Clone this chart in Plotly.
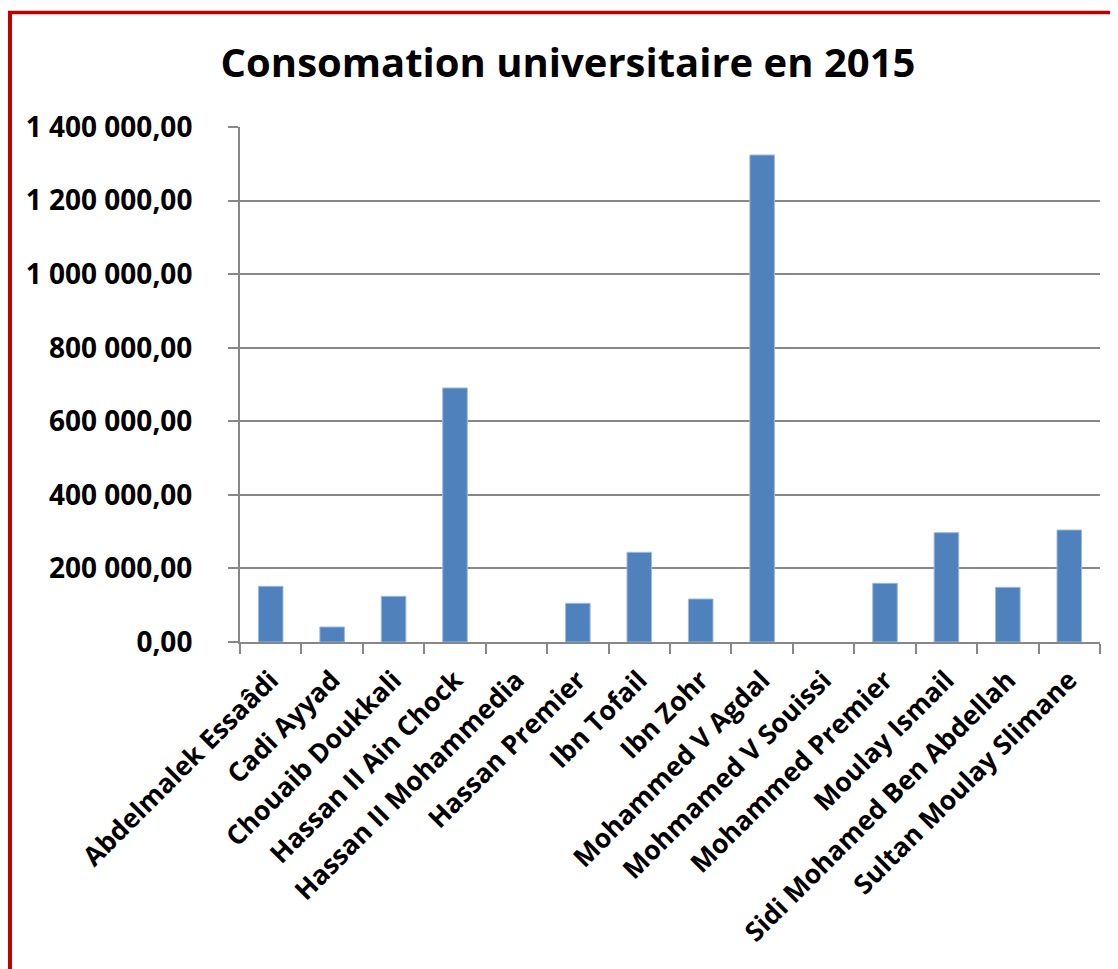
import plotly.graph_objects as go

categories = [
    "Abdelmalek Essaâdi", "Cadi Ayyad", "Chouaib Doukkali", "Hassan II Ain Chock",
    "Hassan II Mohammedia", "Hassan Premier", "Ibn Tofail", "Ibn Zohr",
    "Mohammed V Agdal", "Mohmamed V Souissi", "Mohammed Premier", "Moulay Ismail",
    "Sidi Mohamed Ben Abdellah", "Sultan Moulay Slimane",
]
values = [151400, 40800, 124200, 690500, 0, 105100, 243800, 116900,
          1323900, 0, 159500, 297200, 148600, 304500]
y_tickvals = [0, 200000, 400000, 600000, 800000, 1000000, 1200000, 1400000]
y_ticktext = ["0,00", "200 000,00", "400 000,00", "600 000,00", "800 000,00",
              "1 000 000,00", "1 200 000,00", "1 400 000,00"]
title_text = "Consomation universitaire en 2015"

# page offset (browser body margin) compensation
OFF = 8
W, H = 1118 - OFF, 969 - OFF
ML, MR, MT, MB = 240 - OFF, 18, 127 - OFF, 327
pw, ph = W - ML - MR, H - MT - MB

FONT = "Open Sans"
GREY = "#878787"

fig = go.Figure(go.Bar(
    x=categories, y=values,
    marker=dict(color="#4F81BD",
                line=dict(color="#9DB9DD", width=[1 if v > 0 else 0 for v in values])),
))


def px_x(x):
    return (x - OFF - ML) / pw


def px_y(y):
    return (H - MB - (y - OFF)) / ph


fig.update_layout(
    width=W, height=H,
    margin=dict(l=ML, r=MR, t=MT, b=MB, pad=0),
    paper_bgcolor="white", plot_bgcolor="white",
    bargap=0.6,
    showlegend=False,
    font=dict(family=FONT, color="black"),
    title=dict(text="<b>" + title_text + "</b>", x=(568 - OFF) / W, xref="container",
               xanchor="center", y=1 - (63 - OFF) / H, yref="container", yanchor="middle",
               font=dict(family=FONT, size=40, color="black")),
    xaxis=dict(
        type="category", showline=True, linecolor=GREY, linewidth=2,
        ticks="outside", tickson="boundaries", ticklen=10, tickcolor=GREY, tickwidth=2,
        tickangle=-45, tickfont=dict(family=FONT, size=26.5, color="black", weight="bold"),
        showgrid=False, ticklabelstandoff=10,
    ),
    yaxis=dict(
        range=[0, 1400000], tickvals=y_tickvals, ticktext=y_ticktext,
        showline=True, linecolor=GREY, linewidth=2,
        ticks="outside", ticklen=10, tickcolor=GREY, tickwidth=2,
        showgrid=True, gridcolor=GREY, gridwidth=2, zeroline=False,
        tickfont=dict(family=FONT, size=28, color="black", weight="bold"),
        ticklabelstandoff=30,
    ),
    shapes=[
        dict(type="line", xref="paper", yref="paper",
             x0=px_x(9.5), x1=px_x(9.5),
             y0=px_y(11), y1=px_y(975),
             line=dict(color="#C00000", width=5)),
        dict(type="line", xref="paper", yref="paper",
             x0=px_x(7), x1=px_x(1125),
             y0=px_y(12.5), y1=px_y(12.5),
             line=dict(color="#C00000", width=3.5)),
    ],
)

fig.write_html("out.html")
